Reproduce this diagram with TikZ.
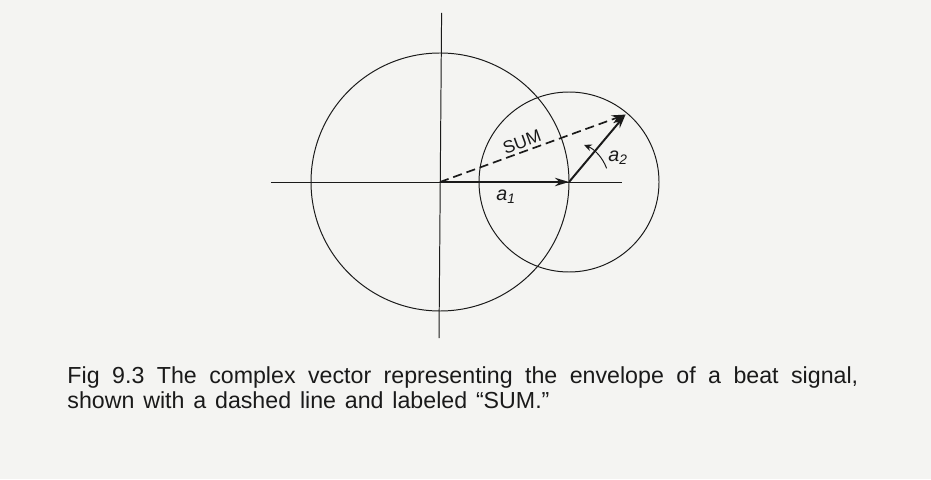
\documentclass[tikz,border=0pt]{standalone}
\usepackage{fontspec}
\setmainfont{Liberation Sans}
\usetikzlibrary{arrows.meta,calc}
\definecolor{colPaper}{HTML}{F4F4F2}
\definecolor{colInk}{HTML}{1A1A1A}
\def\capfont{\fontsize{16.5pt}{19pt}\selectfont}
\def\lblfont{\fontsize{14pt}{16pt}\selectfont\itshape}
\def\sumfont{\fontsize{12.5pt}{14pt}\selectfont}
\tikzset{
  thinline/.style={draw=colInk, line width=0.7pt},
  vecline/.style={draw=colInk, line width=1.4pt, -{Stealth[length=10pt, width=6pt]}},
  sumline/.style={draw=colInk, line width=1.2pt, dash pattern=on 6.5pt off 3.5pt,
    -{Stealth[length=10pt, width=6pt]}},
  turnline/.style={draw=colInk, line width=0.7pt, -{Stealth[length=5.5pt, width=5pt]}}
}

\begin{document}
\begin{tikzpicture}

% ===================== PAGE =====================
\fill[colPaper] (0,0) rectangle (23.275,11.975);

% ===================== AXES AND CIRCLES =====================
\coordinate (orig) at (11.0,7.425);
\coordinate (tipA) at (14.225,7.425);
\coordinate (tipB) at ($(tipA)+(50:2.2)$);
\coordinate (axW) at (6.77,7.425);
\coordinate (axE) at (15.54,7.425);
\coordinate (axN) at (11.04,11.65);
\coordinate (axS) at (10.975,3.525);

\draw[thinline] (axW) -- (axE);
\draw[thinline] (axS) -- (axN);
\draw[thinline] (orig) circle[radius=3.225];
\draw[thinline] (tipA) circle[radius=2.25];

% ===================== VECTORS =====================
\draw[vecline] (orig) -- (tipA);
\draw[vecline] (tipA) -- (tipB);
\draw[sumline] (orig) -- node[sloped, above, pos=0.46, inner sep=2pt, font=\sumfont, text=colInk] (lblSum) {SUM} (tipB);
\draw[turnline] ([shift={(20:1.0)}]tipA) arc[start angle=20, end angle=68, radius=1.0];

\node[anchor=base, font=\lblfont, text=colInk, inner sep=0pt] (lblA) at (12.65,6.96)
  {a\textsubscript{1}};
\node[anchor=base, font=\lblfont, text=colInk, inner sep=0pt] (lblB) at (15.45,7.94)
  {a\textsubscript{2}};

% ===================== CAPTION =====================
\node[anchor=base west, font=\capfont, text=colInk, inner sep=0pt] (capA) at (1.68,2.40)
  {\makebox[19.77cm][s]{Fig 9.3 The complex vector representing the envelope of a beat signal,}};
\node[anchor=base west, font=\capfont, text=colInk, inner sep=0pt] (capB) at (1.68,1.775)
  {\spaceskip=0.38em shown with a dashed line and labeled “SUM.”};

\end{tikzpicture}
\end{document}
